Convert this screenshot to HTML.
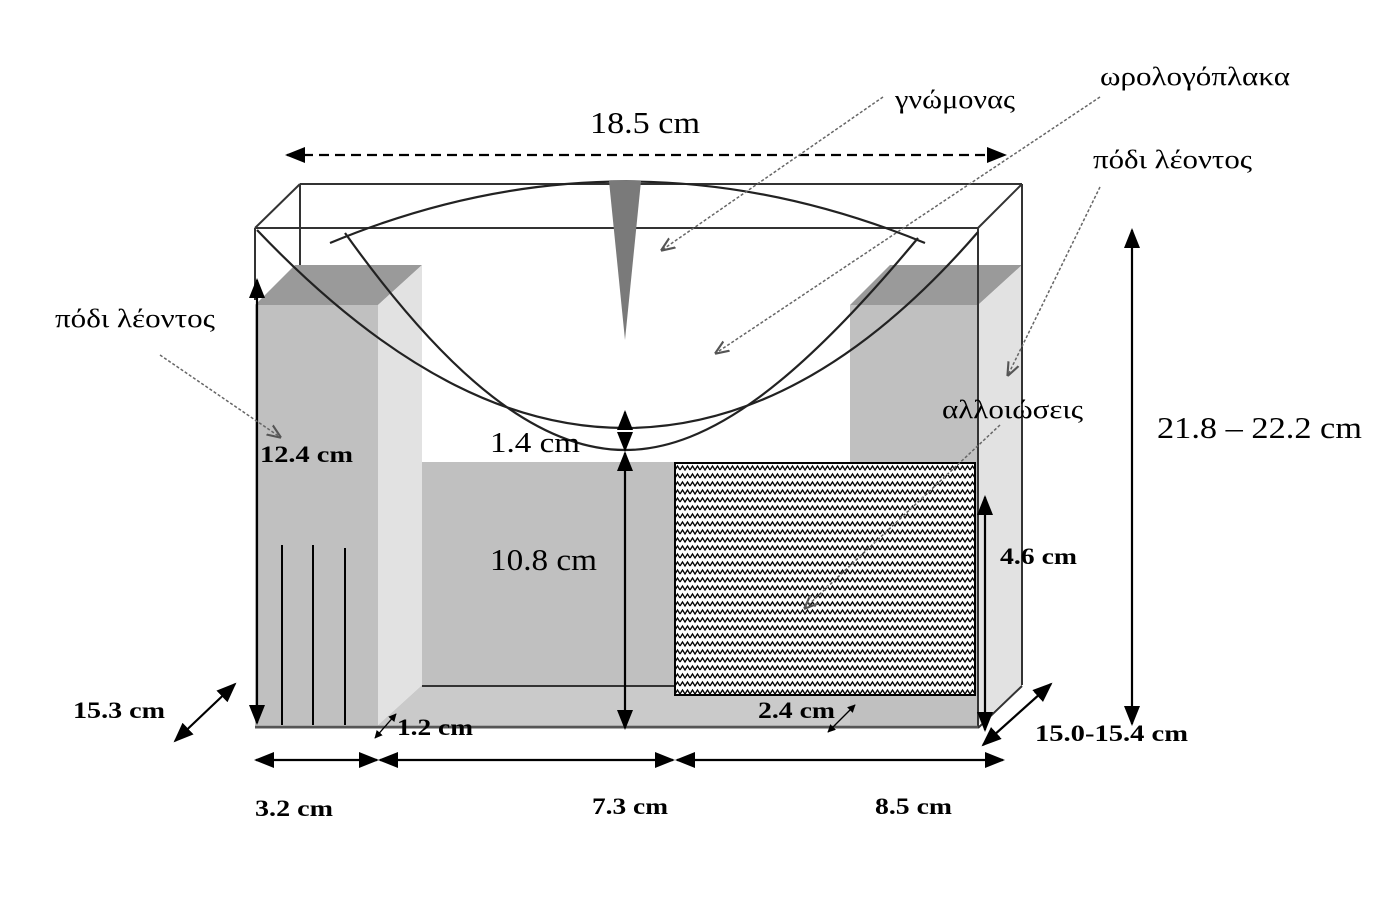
<!DOCTYPE html>
<html><head><meta charset="utf-8"><style>
html,body{margin:0;padding:0;background:#fff}
svg{display:block}
text{font-family:"Liberation Serif","DejaVu Serif",serif;fill:#000}
.b{font-weight:bold;font-size:23px}
.r{font-size:26px}
</style></head><body>
<svg width="1400" height="901" viewBox="0 0 1400 901" xmlns="http://www.w3.org/2000/svg">
<defs>
<marker id="ah" viewBox="0 0 10 10" refX="9" refY="5" markerWidth="8" markerHeight="8" orient="auto-start-reverse" markerUnits="userSpaceOnUse"><path d="M0,0 L10,5 L0,10 z" fill="#000"/></marker>
<marker id="ab" viewBox="0 0 10 10" refX="9" refY="5" markerWidth="20" markerHeight="20" orient="auto-start-reverse" markerUnits="userSpaceOnUse"><path d="M0,1 L10,5 L0,9 z" fill="#000"/></marker>
<marker id="ad" viewBox="0 0 10 10" refX="9" refY="5" markerWidth="14" markerHeight="14" orient="auto" markerUnits="userSpaceOnUse"><path d="M0,1 L10,5 L0,9" fill="none" stroke="#555" stroke-width="1.5"/></marker>
<pattern id="zz" width="10" height="8" patternUnits="userSpaceOnUse"><path d="M0,6 L2.5,2 L5,6 L7.5,2 L10,6" fill="none" stroke="#000" stroke-width="1.3"/></pattern>
</defs>
<rect x="422" y="462" width="430" height="225" fill="#c0c0c0"/>
<polygon points="378,725 422,685 1022,685 978,725" fill="#cacaca"/>
<line x1="422" y1="686" x2="1022" y2="686" stroke="#333" stroke-width="2"/>
<polygon points="255,305 295,265 422,265 378,305" fill="#9a9a9a"/>
<rect x="255" y="305" width="123" height="420" fill="#c0c0c0"/>
<polygon points="378,305 422,265 422,685 378,725" fill="#e2e2e2"/>
<polygon points="850,305 890,265 1022,265 978,305" fill="#9a9a9a"/>
<rect x="850" y="305" width="128" height="420" fill="#c0c0c0"/>
<polygon points="978,305 1022,265 1022,685 978,725" fill="#e2e2e2"/>
<g stroke="#333" stroke-width="2" fill="none">
<line x1="300" y1="184" x2="1022" y2="184"/>
<line x1="255" y1="228" x2="978" y2="228"/>
<line x1="255" y1="228" x2="300" y2="184"/>
<line x1="978" y1="228" x2="1022" y2="184"/>
<line x1="300" y1="184" x2="300" y2="265"/>
<line x1="1022" y1="184" x2="1022" y2="685"/>
<line x1="978" y1="228" x2="978" y2="728"/>
<line x1="255" y1="228" x2="255" y2="300"/>
<line x1="978" y1="728" x2="1022" y2="686"/>
</g>
<line x1="255" y1="727" x2="978" y2="727" stroke="#555" stroke-width="3"/>
<rect x="675" y="463" width="300" height="232" fill="#fff"/>
<rect x="675" y="463" width="300" height="232" fill="url(#zz)" stroke="#000" stroke-width="2"/>
<g stroke="#222" stroke-width="2.2" fill="none">
<path d="M330,243 Q625,120 925,243"/>
<path d="M257,230 C400,380 520,428 625,428 C730,428 850,380 978,232"/>
<path d="M345,233 C450,380 540,450 625,450 C710,450 800,380 918,238"/>
</g>
<polygon points="609,181 641,181 625,340" fill="#7a7a7a"/>
<g stroke="#000" stroke-width="2"><line x1="282" y1="545" x2="282" y2="725"/><line x1="313" y1="545" x2="313" y2="725"/><line x1="345" y1="548" x2="345" y2="725"/></g>
<g stroke="#000" stroke-width="2.2" fill="none">
<line x1="287" y1="155" x2="1005" y2="155" stroke-dasharray="10,6" marker-start="url(#ab)" marker-end="url(#ab)"/>
<line x1="1132" y1="230" x2="1132" y2="724" marker-start="url(#ab)" marker-end="url(#ab)"/>
<line x1="257" y1="280" x2="257" y2="723" marker-start="url(#ab)" marker-end="url(#ab)"/>
<line x1="625" y1="453" x2="625" y2="728" marker-start="url(#ab)" marker-end="url(#ab)"/>
<line x1="625" y1="412" x2="625" y2="428" marker-start="url(#ab)"/>
<line x1="625" y1="432" x2="625" y2="450" marker-end="url(#ab)"/>
<line x1="985" y1="497" x2="985" y2="730" marker-start="url(#ab)" marker-end="url(#ab)"/>
<line x1="256" y1="760" x2="377" y2="760" marker-start="url(#ab)" marker-end="url(#ab)"/>
<line x1="380" y1="760" x2="673" y2="760" marker-start="url(#ab)" marker-end="url(#ab)"/>
<line x1="677" y1="760" x2="1003" y2="760" marker-start="url(#ab)" marker-end="url(#ab)"/>
<line x1="175" y1="741" x2="235" y2="684" marker-start="url(#ab)" marker-end="url(#ab)"/>
<line x1="983" y1="745" x2="1051" y2="684" marker-start="url(#ab)" marker-end="url(#ab)"/>
</g>
<g stroke="#000" stroke-width="1.3" fill="none">
<line x1="375" y1="738" x2="396" y2="714" marker-start="url(#ah)" marker-end="url(#ah)"/>
<line x1="828" y1="732" x2="855" y2="705" marker-start="url(#ah)" marker-end="url(#ah)"/>
</g>
<g stroke="#666" stroke-width="1.5" stroke-dasharray="3,2" fill="none">
<line x1="883" y1="97" x2="662" y2="250" marker-end="url(#ad)"/>
<line x1="1100" y1="97" x2="716" y2="353" marker-end="url(#ad)"/>
<line x1="1100" y1="187" x2="1008" y2="375" marker-end="url(#ad)"/>
<line x1="160" y1="355" x2="280" y2="437" marker-end="url(#ad)"/>
<line x1="1000" y1="425" x2="805" y2="608" marker-end="url(#ad)"/>
</g>
<g lengthAdjust="spacingAndGlyphs">
<text x="590" y="133" font-size="31" textLength="110" lengthAdjust="spacingAndGlyphs">18.5 cm</text>
<text x="895" y="108" class="r" textLength="120" lengthAdjust="spacingAndGlyphs">γνώμονας</text>
<text x="1100" y="85" class="r" textLength="190" lengthAdjust="spacingAndGlyphs">ωρολογόπλακα</text>
<text x="1093" y="168" class="r" textLength="159" lengthAdjust="spacingAndGlyphs">πόδι λέοντος</text>
<text x="55" y="327" class="r" textLength="160" lengthAdjust="spacingAndGlyphs">πόδι λέοντος</text>
<text x="942" y="418" class="r" textLength="141" lengthAdjust="spacingAndGlyphs">αλλοιώσεις</text>
<text x="1157" y="438" font-size="31" textLength="205" lengthAdjust="spacingAndGlyphs">21.8 – 22.2 cm</text>
<text x="490" y="452" font-size="29" textLength="90" lengthAdjust="spacingAndGlyphs">1.4 cm</text>
<text x="490" y="570" font-size="31" textLength="107" lengthAdjust="spacingAndGlyphs">10.8 cm</text>
<text x="260" y="462" class="b" textLength="93" lengthAdjust="spacingAndGlyphs">12.4 cm</text>
<text x="1000" y="564" class="b" textLength="77" lengthAdjust="spacingAndGlyphs">4.6 cm</text>
<text x="73" y="718" class="b" textLength="92" lengthAdjust="spacingAndGlyphs">15.3 cm</text>
<text x="397" y="735" class="b" textLength="76" lengthAdjust="spacingAndGlyphs">1.2 cm</text>
<text x="758" y="718" class="b" textLength="77" lengthAdjust="spacingAndGlyphs">2.4 cm</text>
<text x="1035" y="741" class="b" textLength="153" lengthAdjust="spacingAndGlyphs">15.0-15.4 cm</text>
<text x="255" y="816" class="b" textLength="78" lengthAdjust="spacingAndGlyphs">3.2 cm</text>
<text x="592" y="814" class="b" textLength="76" lengthAdjust="spacingAndGlyphs">7.3 cm</text>
<text x="875" y="814" class="b" textLength="77" lengthAdjust="spacingAndGlyphs">8.5 cm</text>
</g>
</svg>
</body></html>
